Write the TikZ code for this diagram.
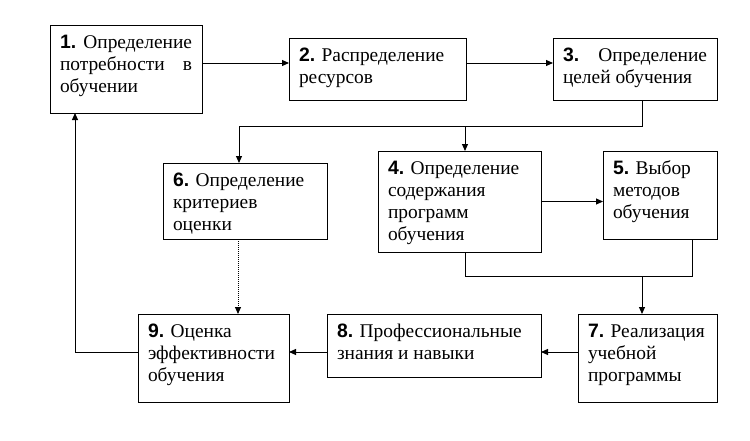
\documentclass[tikz,border=0pt]{standalone}
\usepackage{fontspec}
\setmainfont{Liberation Serif}
\newfontfamily\numfont{Liberation Sans}
\usetikzlibrary{arrows.meta,calc}
\newcommand{\nr}[1]{{\numfont\bfseries #1}}
\newcommand{\cell}[3]{\parbox[t][\dimexpr#2pt-15.2pt\relax][t]{\dimexpr#1pt-20pt\relax}{\strut#3}}

\begin{document}
\begin{tikzpicture}[x=1pt, y=-1pt, line width=1pt,
    box/.style = {draw, anchor=north west, outer sep=0pt, inner xsep=10pt, inner ysep=7.6pt,
                  font=\fontsize{19.4}{22}\selectfont},
    >={Triangle[length=7pt,width=6pt]}]
  \useasboundingbox (0,0) rectangle (750,440);
  \node[box] (b1) at (50,25)   {\cell{152}{88}{\nr{1.} Определение\linebreak потребности в\linebreak обучении}};
  \node[box] (b2) at (289,38)  {\cell{177}{62}{\nr{2.} Распределение\\ресурсов}};
  \node[box] (b3) at (553,38)  {\cell{164}{62}{\nr{3.} Определение\linebreak целей обучения}};
  \node[box] (b6) at (163,163) {\cell{164}{76}{\nr{6.} Определение\\критериев\\оценки}};
  \node[box] (b4) at (378,151) {\cell{163}{101}{\nr{4.} Определение\\содержания\\программ\\обучения}};
  \node[box] (b5) at (603,151) {\cell{114}{88}{\nr{5.} Выбор\\методов\\обучения}};
  \node[box] (b9) at (138,314) {\cell{151}{88}{\nr{9.} Оценка\\эффективности\\обучения}};
  \node[box] (b8) at (327,314) {\cell{214}{63}{\nr{8.} Профессиональные\\знания и навыки}};
  \node[box] (b7) at (578,314) {\cell{139}{88}{\nr{7.} Реализация\\учебной\\программы}};
  % junctions
  \coordinate (top) at (465,126);
  \coordinate (bot) at (642,276);
  \coordinate (mid) at (0,352);
  \coordinate (b6n) at ([xshift=-6pt]b6.north);
  \coordinate (b5s) at ([xshift=32.5pt]b5.south);
  \coordinate (b6s) at ([xshift=-7pt]b6.south);
  \draw[->] ([yshift=6pt]b1.east) -- ([yshift=6pt]b1.east -| b2.west);
  \draw[->] ([yshift=6pt]b2.east) -- ([yshift=6pt]b2.east -| b3.west);
  \draw[->] ([xshift=7pt]b3.south) |- (b6n |- top) -- (b6n);
  \draw[->] (top) -- (top |- b4.north);
  \draw[->] (b4.east) -- (b4.east -| b5.west);
  \draw ([xshift=5.5pt]b4.south) |- (b5s |- bot) -- (b5s);
  \draw[->] (bot) -- (bot |- b7.north);
  \draw[->] (b7.west |- mid) -- (b8.east |- mid);
  \draw[->] (b8.west |- mid) -- (b9.east |- mid);
  \draw[->] (b9.west |- mid) -| ([xshift=-51pt]b1.south);
  \draw[->, densely dotted] (b6s) -- (b6s |- b9.north);
\end{tikzpicture}
\end{document}
